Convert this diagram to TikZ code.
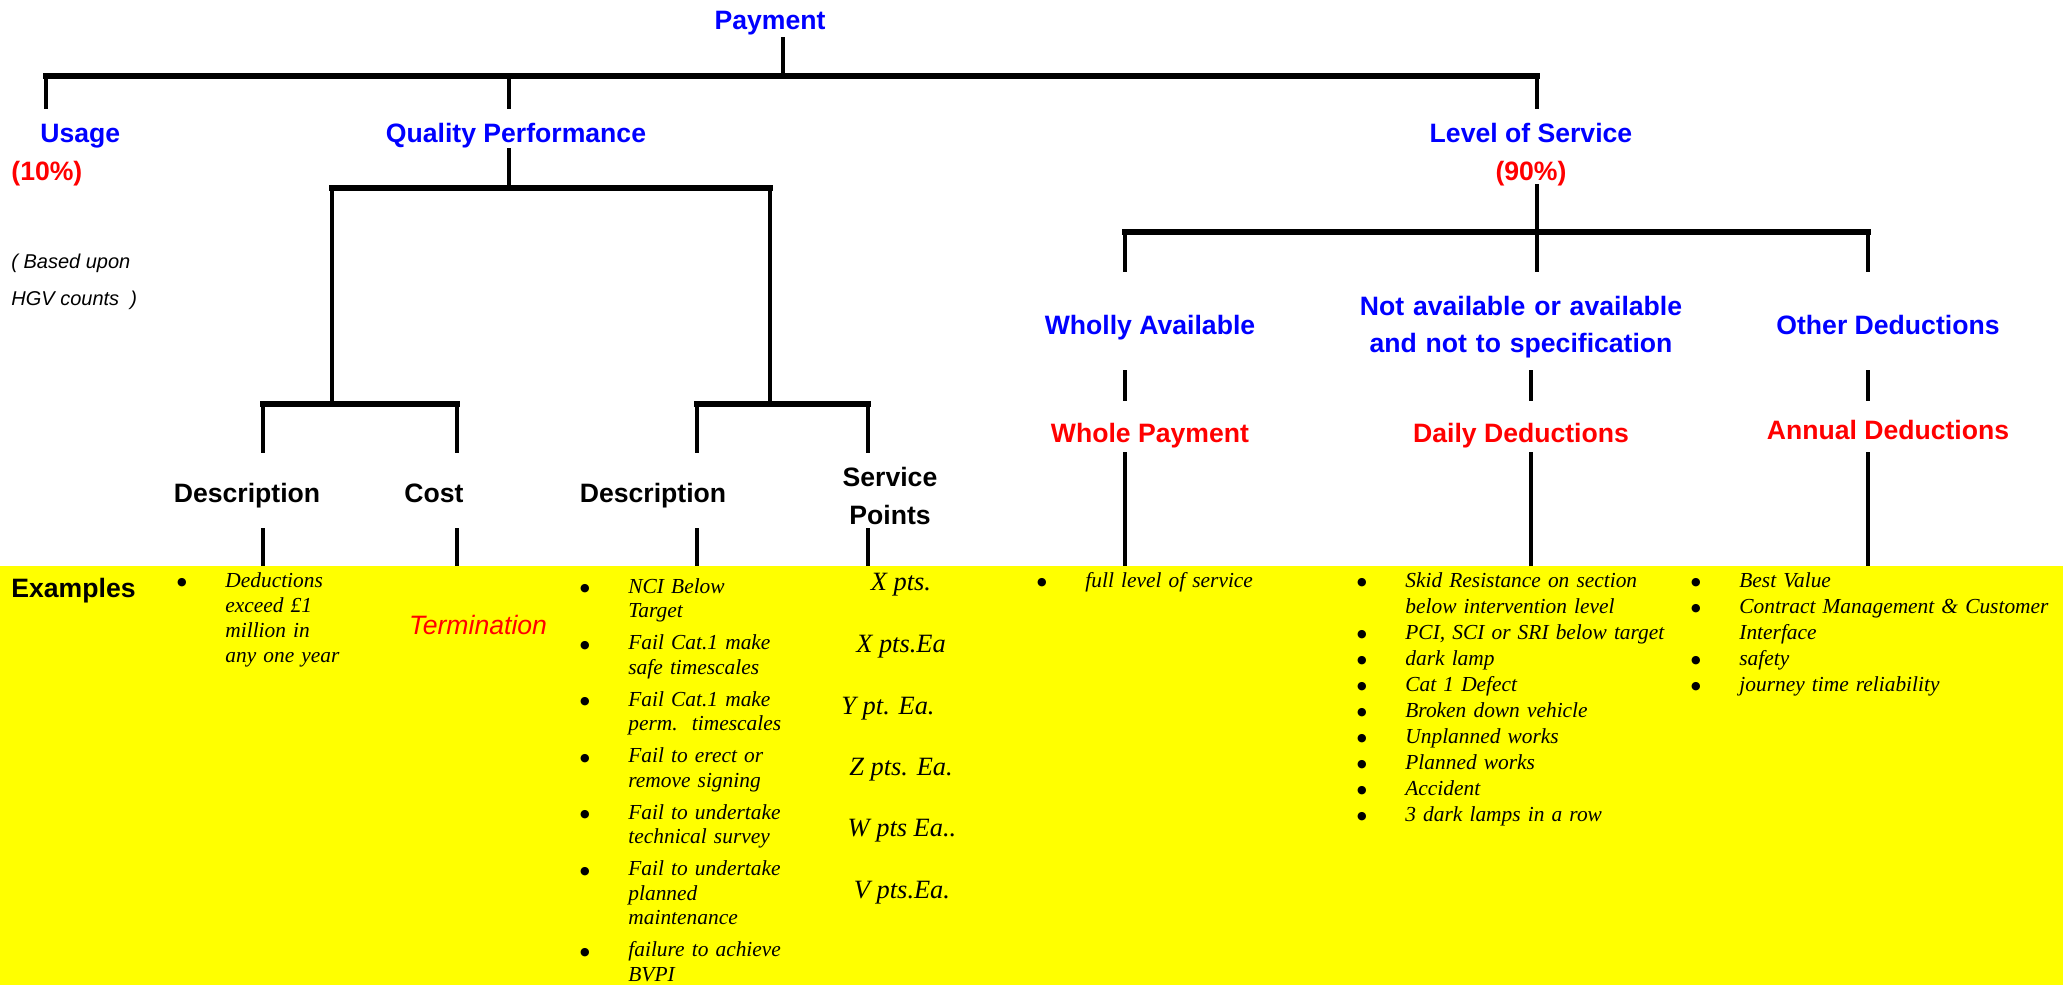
\documentclass[tikz,border=0pt]{standalone}
\usepackage{fontspec}
\setmainfont{Liberation Serif}
\setsansfont{Liberation Sans}
\newfontfamily\bulfont{DejaVu Sans}
\usetikzlibrary{positioning}

\definecolor{exyellow}{RGB}{255,255,0}
\definecolor{hblue}{RGB}{0,0,255}
\definecolor{hred}{RGB}{255,0,0}

\tikzset{
  tree/.style={line width=1.8pt},
  bar/.style={line width=2.7pt, line cap=rect},
  head/.style={font=\sffamily\bfseries\fontsize{13.3}{18.5}\selectfont, inner sep=0pt},
  headblue/.style={head, text=hblue},
  headred/.style={head, text=hred},
  exlist/.style={font=\itshape\fontsize{10.7}{#1}\selectfont, inner sep=0pt,
    align=left, anchor=base west},
  exlist/.default=12.5,
  points/.style={font=\itshape\fontsize{13.2}{16}\selectfont, inner sep=0pt, anchor=base},
}
\newcommand{\bul}{\leavevmode\llap{\raisebox{0.7pt}{\bulfont\fontsize{5.5}{5.5}\selectfont ●}\hspace{19.3pt}}}

\begin{document}
\begin{tikzpicture}[x=0.5pt, y=-0.5pt]
  \useasboundingbox (0,0) rectangle (2063,985);

  % Fascia gialla degli esempi
  \fill[exyellow] (0,566) rectangle (2063,985);

  % Punti della struttura ad albero
  \coordinate (paytop) at (783,37);
  \coordinate (paybar) at (783,76);
  \coordinate (barL) at (46,76);
  \coordinate (barR) at (1537,76);
  \coordinate (usagebot) at (46,109);
  \coordinate (qptop) at (509,76);
  \coordinate (qpbot) at (509,109);
  \coordinate (lostop) at (1537,76);
  \coordinate (losbot) at (1537,109);

  \coordinate (qpstem) at (509,148);
  \coordinate (qpbar) at (509,188);
  \coordinate (qpL) at (332,188);
  \coordinate (qpR) at (770,188);
  \coordinate (qpLbot) at (332,404);
  \coordinate (qpRbot) at (770,404);
  \coordinate (subLa) at (263,404);
  \coordinate (subLb) at (457,404);
  \coordinate (subRa) at (697,404);
  \coordinate (subRb) at (868,404);

  \coordinate (losstem) at (1537,184);
  \coordinate (losbar) at (1537,232);
  \coordinate (losL) at (1125,232);
  \coordinate (losR) at (1868,232);

  % Titoli
  \node[headblue, anchor=base] (pay) at (770,29.5) {Payment};
  \node[headblue, anchor=base west] (usage) at (40,142.5) {Usage};
  \node[headred, anchor=base west] (usagepc) at (11,180.5) {(10\%)};
  \node[headblue, anchor=base] (qp) at (516,142.5) {Quality Performance};
  \node[headblue, anchor=base] (los) at (1531,142.5) {Level of Service};
  \node[headred, anchor=base] (lospc) at (1531,180.5) {(90\%)};

  \node[font=\sffamily\itshape\fontsize{10}{12}\selectfont, inner sep=0pt, anchor=base west]
    (based) at (11,268) {( Based upon};
  \node[font=\sffamily\itshape\fontsize{10}{12}\selectfont, inner sep=0pt, anchor=base west]
    (hgv) at (11,305) {HGV counts\ \ )};

  \node[head, anchor=base] (desca) at (247,502.5) {Description};
  \node[head, anchor=base] (cost) at (434,502.5) {Cost};
  \node[head, anchor=base] (descb) at (653,502.5) {Description};
  \node[head, anchor=base, align=center, text width=70pt, font=\sffamily\bfseries\fontsize{13.3}{19}\selectfont]
    (spts) at (890,486.5) {Service\\Points};

  \node[headblue, anchor=base] (wholly) at (1150,334.5) {Wholly Available};
  \node[headblue, anchor=base, align=center, text width=180pt] (notav) at (1521,315.5)
    {Not available or available\\and not to specification};
  \node[headblue, anchor=base] (other) at (1888,334.5) {Other Deductions};

  \node[headred, anchor=base] (wholepay) at (1150,442.5) {Whole Payment};
  \node[headred, anchor=base] (daily) at (1521,442.5) {Daily Deductions};
  \node[headred, anchor=base] (annual) at (1888,439.5) {Annual Deductions};

  % Linee
  \draw[tree] (paytop) -- (paybar);
  \draw[bar] (barL) -- (barR);
  \draw[tree] (barL) -- (usagebot);
  \draw[tree] (qptop) -- (qpbot);
  \draw[tree] (lostop) -- (losbot);

  \draw[tree] (qpstem) -- (qpbar);
  \draw[bar] (qpL) -- (qpR);
  \draw[tree] (qpL) -- (qpLbot);
  \draw[tree] (qpR) -- (qpRbot);
  \draw[bar] (subLa) -- (subLb);
  \draw[bar] (subRa) -- (subRb);
  \foreach \c in {subLa,subLb,subRa,subRb} {
    \draw[tree] (\c) -- ++(0,49);
    \draw[tree] (\c) ++(0,124) -- ++(0,38);
  }

  \draw[tree] (losstem) -- (losbar);
  \draw[bar] (losL) -- (losR);
  \foreach \c in {losL,losbar,losR}
    \draw[tree] (\c) -- ++(0,40);
  \foreach \c/\s in {losL/0,losbar/-6,losR/0} {
    \draw[tree] (\c) ++(\s,138) -- ++(0,31);
    \draw[tree] (\c) ++(\s,220) -- ++(0,114);
  }

  % Esempi
  \node[head, anchor=base west] (examples) at (11,597.5) {Examples};

  \node[exlist, text width=80pt] (exa) at (225,587)
    {\bul Deductions\\exceed £1\\million in\\any one year};

  \node[font=\sffamily\itshape\fontsize{13.3}{16}\selectfont, text=hred, inner sep=0pt, anchor=base]
    (term) at (478,634.5) {Termination};

  \node[exlist=12.25, text width=90pt] (exb) at (628,593)
    {\bul NCI Below\\Target\\[3.75pt]
     \bul Fail Cat.1 make\\safe timescales\\[3.75pt]
     \bul Fail Cat.1 make\\perm.\ \ timescales\\[3.75pt]
     \bul Fail to erect or\\remove signing\\[3.75pt]
     \bul Fail to undertake\\technical survey\\[3.75pt]
     \bul Fail to undertake\\planned\\maintenance\\[3.75pt]
     \bul failure to achieve\\BVPI};

  \node[points] (pa) at (901,590) {X pts.};
  \node[points] (pb) at (901,652) {X pts.Ea};
  \node[points] (pc) at (888,714) {Y pt. Ea.};
  \node[points] (pd) at (901,775) {Z pts. Ea.};
  \node[points] (pe) at (902,836) {W pts Ea..};
  \node[points] (pf) at (902,898) {V pts.Ea.};

  \node[exlist, text width=110pt] (exc) at (1085,587) {\bul full level of service};

  \node[exlist=13, text width=140pt] (exd) at (1405,587)
    {\bul Skid Resistance on section\\below intervention level\\
     \bul PCI, SCI or SRI below target\\
     \bul dark lamp\\
     \bul Cat 1 Defect\\
     \bul Broken down vehicle\\
     \bul Unplanned works\\
     \bul Planned works\\
     \bul Accident\\
     \bul 3 dark lamps in a row};

  \node[exlist=13, text width=160pt] (exe) at (1739,587)
    {\bul Best Value\\
     \bul Contract Management \& Customer\\Interface\\
     \bul safety\\
     \bul journey time reliability};
\end{tikzpicture}
\end{document}
